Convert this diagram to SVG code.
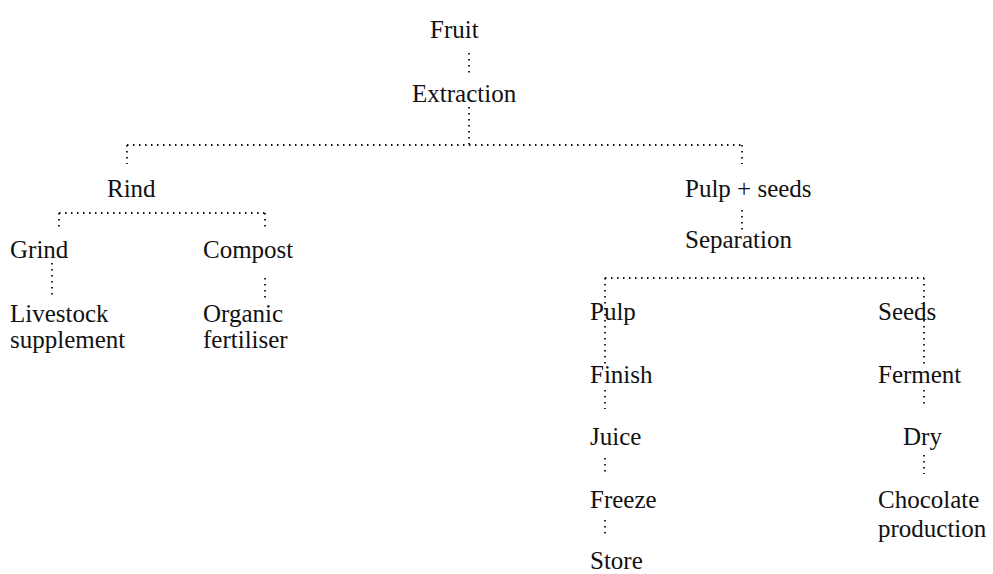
<svg xmlns="http://www.w3.org/2000/svg" width="993" height="574" viewBox="0 0 993 574">
<style>
text{font-family:"Liberation Serif","Times New Roman",serif;font-size:25px;fill:#111}
.c line{stroke:#111;stroke-width:1.8;stroke-dasharray:1.5 4.5;fill:none}
</style>
<rect width="993" height="574" fill="#fff"/>
<g class="c" id="connectors">
<line x1="469" y1="53" x2="469" y2="73"/>
<line x1="469" y1="107" x2="469" y2="145"/>
<line x1="127" y1="145" x2="742" y2="145"/>
<line x1="127" y1="145" x2="127" y2="164"/>
<line x1="742" y1="145" x2="742" y2="164"/>
<line x1="742" y1="210" x2="742" y2="231"/>
<line x1="59" y1="213" x2="265" y2="213"/>
<line x1="59" y1="213" x2="59" y2="231"/>
<line x1="265" y1="213" x2="265" y2="231"/>
<line x1="52" y1="263" x2="52" y2="296"/>
<line x1="265" y1="278" x2="265" y2="298"/>
<line x1="605" y1="278" x2="924" y2="278"/>
<line x1="605" y1="278" x2="605" y2="364"/>
<line x1="924" y1="278" x2="924" y2="364"/>
<line x1="605" y1="390" x2="605" y2="409"/>
<line x1="924" y1="390" x2="924" y2="408"/>
<line x1="605" y1="458" x2="605" y2="474"/>
<line x1="924" y1="455" x2="924" y2="474"/>
<line x1="605" y1="520" x2="605" y2="538"/>
</g>
<g id="fruit"><text x="430" y="38">Fruit</text></g>
<g id="extraction"><text x="412" y="102">Extraction</text></g>
<g id="rind"><text x="107" y="197">Rind</text></g>
<g id="pulpseeds"><text x="685" y="197">Pulp + seeds</text></g>
<g id="grind"><text x="10" y="258">Grind</text></g>
<g id="compost"><text x="203" y="258">Compost</text></g>
<g id="separation"><text x="685" y="248">Separation</text></g>
<g id="livestock"><text x="10" y="322">Livestock</text><text x="10" y="348">supplement</text></g>
<g id="organic"><text x="203" y="322">Organic</text><text x="203" y="348">fertiliser</text></g>
<g id="pulp"><text x="590" y="320">Pulp</text></g>
<g id="seeds"><text x="878" y="320">Seeds</text></g>
<g id="finish"><text x="590" y="383">Finish</text></g>
<g id="ferment"><text x="878" y="383">Ferment</text></g>
<g id="juice"><text x="590" y="445">Juice</text></g>
<g id="dry"><text x="903" y="445">Dry</text></g>
<g id="freeze"><text x="590" y="508">Freeze</text></g>
<g id="chocolate"><text x="878" y="508">Chocolate</text><text x="878" y="537">production</text></g>
<g id="store"><text x="590" y="569">Store</text></g>
</svg>
